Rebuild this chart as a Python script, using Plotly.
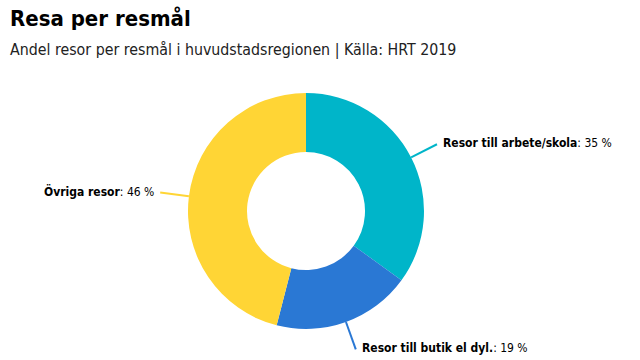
import math
import plotly.graph_objects as go

labels = ["Resor till arbete/skola", "Resor till butik el dyl.", "Övriga resor"]
values = [35, 19, 46]
colors = ["#00B5C9", "#2A78D4", "#FFD535"]

W, H = 640, 360
cx, cy, R = 306, 211, 118
R_end = 147
FONT = "Liberation Sans Narrow, DejaVu Sans Condensed, sans-serif"

fig = go.Figure(go.Pie(
    labels=labels, values=values, hole=0.5, sort=False, direction="clockwise",
    rotation=0, marker=dict(colors=colors, line=dict(color="white", width=0)),
    textinfo="none", hoverinfo="label+percent", showlegend=False,
    domain=dict(x=[(cx - R) / W, (cx + R) / W], y=[1 - (cy + R) / H, 1 - (cy - R) / H]),
))

shapes, annotations = [], []
total = sum(values)
cum = 0
for lab, v, col in zip(labels, values, colors):
    mid = (cum + v / 2) / total * 2 * math.pi
    cum += v
    sx, sy = cx + R * math.sin(mid), cy - R * math.cos(mid)
    ex, ey = cx + R_end * math.sin(mid), cy - R_end * math.cos(mid)
    shapes.append(dict(type="line", xref="paper", yref="paper",
                       x0=sx / W, y0=1 - sy / H, x1=ex / W, y1=1 - ey / H,
                       line=dict(color=col, width=2)))
    right = math.sin(mid) >= 0
    tx = ex + (4 if right else -4)
    annotations.append(dict(
        xref="paper", yref="paper", x=tx / W, y=1 - (ey - 1) / H,
        xanchor="left" if right else "right", yanchor="middle", showarrow=False,
        text=f"<b>{lab}</b>: {v} %", font=dict(family=FONT, size=12, color="#000")))

annotations.append(dict(xref="paper", yref="paper", x=8 / W, y=1 - 4 / H,
                        xanchor="left", yanchor="top", showarrow=False,
                        text="<b>Resa per resmål</b>", font=dict(family=FONT, size=22, color="#000")))
annotations.append(dict(xref="paper", yref="paper", x=8 / W, y=1 - 38 / H,
                        xanchor="left", yanchor="top", showarrow=False,
                        text="Andel resor per resmål i huvudstadsregionen | Källa: HRT 2019",
                        font=dict(family=FONT, size=15.8, color="#222")))

fig.update_layout(width=W, height=H, margin=dict(l=0, r=0, t=0, b=0),
                  paper_bgcolor="white", plot_bgcolor="white",
                  shapes=shapes, annotations=annotations)
fig.write_html("out.html", config={"displayModeBar": False},
               post_script="document.body.style.margin='0';document.body.style.overflow='hidden';")
